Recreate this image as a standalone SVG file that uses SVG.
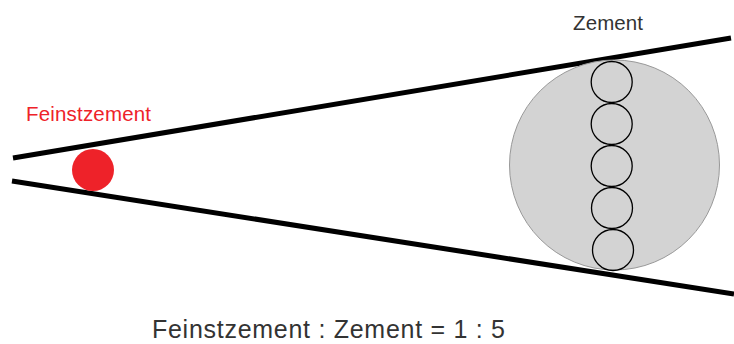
<svg xmlns="http://www.w3.org/2000/svg" width="734" height="344" viewBox="0 0 734 344">
  <style>
    .wall { stroke: #000; stroke-width: 5; fill: none; }
    .grain { fill: none; stroke: #000; stroke-width: 1.3; }
    .lbl { font-family: "Liberation Sans", Arial, sans-serif; font-size: 20.5px; }
    .ratio { font-family: "Liberation Sans", Arial, sans-serif; font-size: 25px; }
  </style>
  <rect width="734" height="344" fill="#fff"/>

  <g id="walls">
    <line class="wall" x1="13" y1="158" x2="731" y2="38"/>
    <line class="wall" x1="12" y1="181" x2="734" y2="294"/>
  </g>

  <g id="zement">
    <circle cx="614.5" cy="165" r="105" fill="#d3d3d3" stroke="#999" stroke-width="1"/>
    <circle class="grain" cx="611.7" cy="82" r="20.5"/>
    <circle class="grain" cx="611.7" cy="124" r="20.5"/>
    <circle class="grain" cx="611.7" cy="166" r="20.5"/>
    <circle class="grain" cx="612" cy="208" r="20.5"/>
    <circle class="grain" cx="613" cy="250" r="20.5"/>
  </g>

  <g id="feinstzement">
    <circle cx="93" cy="170" r="21" fill="#ee2229"/>
  </g>

  <g id="labels">
    <text class="lbl" x="26" y="121" fill="#ee2229" textLength="125">Feinstzement</text>
    <text class="lbl" x="573" y="30" fill="#333" textLength="70">Zement</text>
    <text class="ratio" x="152" y="338" fill="#333" textLength="353">Feinstzement : Zement = 1 : 5</text>
  </g>
</svg>
